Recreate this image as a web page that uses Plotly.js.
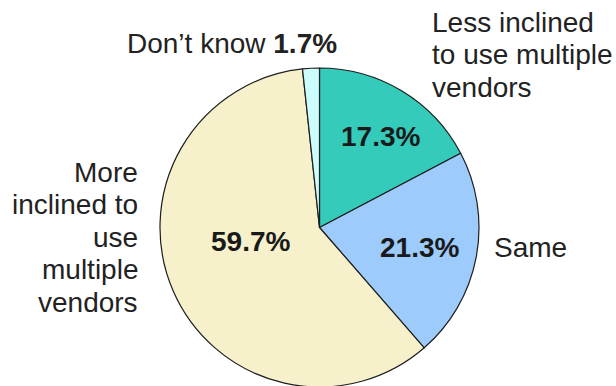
<!DOCTYPE html>
<html>
<head>
<meta charset="utf-8">
<script src="https://cdn.plot.ly/plotly-3.0.1.min.js"></script>
<style>
html,body{margin:0;padding:0;background:#fff;overflow:hidden;}
#chart{width:616px;height:390px;}
</style>
</head>
<body>
<div id="chart"></div>
<script>
// ---- data ----
const categories = ['Less inclined to use multiple vendors', 'Same', 'More inclined to use multiple vendors', 'Don\u2019t know'];
const values = [17.3, 21.3, 59.7, 1.7];
const outsideLines = [
  ['Less inclined', 'to use multiple', 'vendors'],
  ['Same'],
  ['More', 'inclined to', 'use', 'multiple', 'vendors'],
  ['Don\u2019t know']
];

// ---- styles / positions (pixels in the 616x390 page) ----
const W = 616, H = 390;
const colors = ['#34CBBA', '#9CCBFC', '#F6F1CB', '#CCFCFC'];
const fontFam = '"Liberation Sans", Arial, sans-serif';
const fs = 28;
const lineGap = 32.5;
// inside percentage label centres
const pctPos = [[380.5, 136.5], [419.5, 247], [250, 241], null];
// outside label anchor: [x, first-line centre y, xanchor]
const outPos = [[430, 22, 'left'], [492, 247, 'left'], [140, 172, 'right'], [125, 43, 'left']];

const px = x => x / W;
const py = y => (H - y) / H;

const annotations = [];
values.forEach((v, i) => {
  const pct = v.toFixed(1) + '%';
  if (pctPos[i]) {
    annotations.push({
      xref: 'paper', yref: 'paper', x: px(pctPos[i][0]), y: py(pctPos[i][1]),
      xanchor: 'center', yanchor: 'middle', showarrow: false,
      text: '<b>' + pct + '</b>', font: {family: fontFam, size: fs, color: '#1a1a1a'}
    });
  }
  const [ox, oy, anc] = outPos[i];
  outsideLines[i].forEach((ln, j) => {
    let t = ln;
    if (!pctPos[i]) t = ln + ' <b>' + pct + '</b>';
    annotations.push({
      xref: 'paper', yref: 'paper', x: px(ox), y: py(oy + j * lineGap),
      xanchor: anc, yanchor: 'middle', showarrow: false, align: anc,
      text: t, font: {family: fontFam, size: fs, color: '#222'}
    });
  });
});

const trace = {
  type: 'pie',
  labels: categories,
  values: values,
  sort: false,
  direction: 'clockwise',
  rotation: 0,
  textinfo: 'none',
  hoverinfo: 'none',
  marker: {colors: colors, line: {color: '#1e1e1e', width: 1.2}},
  domain: {x: [px(160), px(479)], y: [py(387), py(68)]},
  showlegend: false
};

const layout = {
  width: W, height: H,
  margin: {l: 0, r: 0, t: 0, b: 0},
  paper_bgcolor: '#fff',
  plot_bgcolor: '#fff',
  showlegend: false,
  annotations: annotations
};

Plotly.newPlot('chart', [trace], layout, {staticPlot: true, displayModeBar: false});
</script>
</body>
</html>
